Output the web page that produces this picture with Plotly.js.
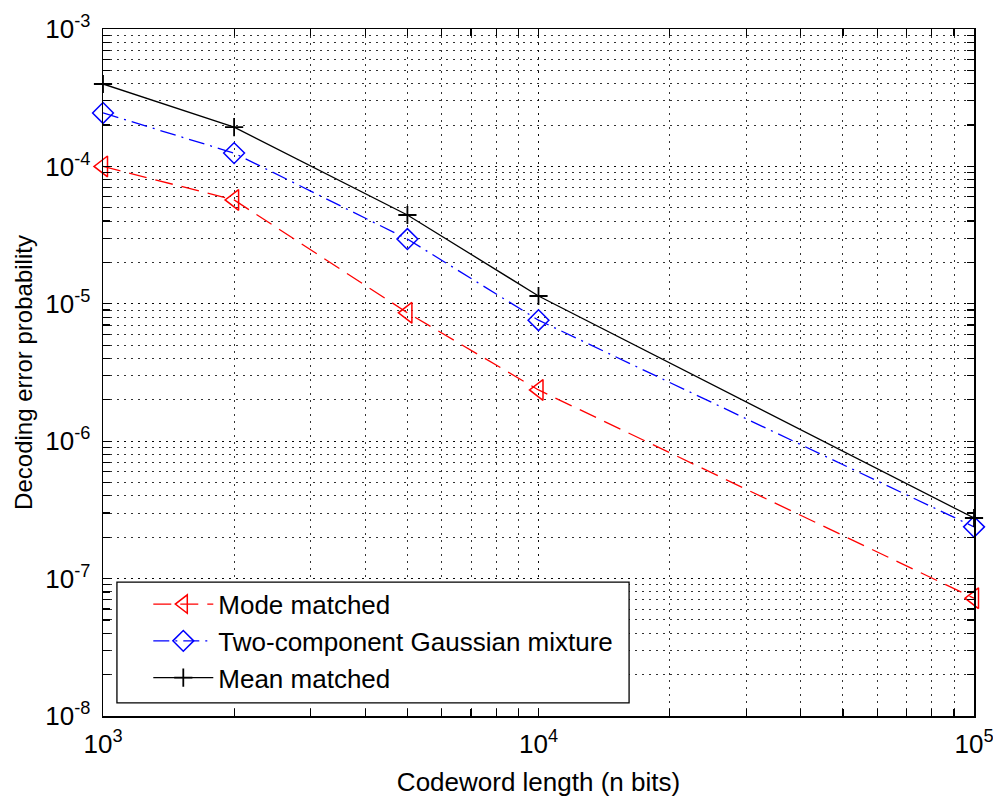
<!DOCTYPE html>
<html>
<head>
<meta charset="utf-8">
<script src="https://cdn.plot.ly/plotly-3.0.1.min.js"></script>
<style>html,body{margin:0;padding:0;background:#fff;}#chart{width:993px;height:799px;}</style>
</head>
<body>
<div id="chart"></div>
<script>
// ---- data ----
var codewordLength = [1000, 2000, 5000, 10000, 100000];
var modeMatched = [1.0e-4, 5.7e-5, 8.6e-6, 2.36e-6, 7.2e-8];
var gaussianMixture = [2.45e-4, 1.25e-4, 2.96e-5, 7.6e-6, 2.38e-7];
var meanMatched = [3.98e-4, 1.93e-4, 4.43e-5, 1.14e-5, 2.76e-7];
var seriesNames = ['Mode matched', 'Two-component Gaussian mixture', 'Mean matched'];
var xTickVals = [1e3, 1e4, 1e5];
var xTickText = ['10<sup>3</sup>', '10<sup>4</sup>', '10<sup>5</sup>'];
var yTickVals = [1e-8, 1e-7, 1e-6, 1e-5, 1e-4, 1e-3];
var yTickText = ['10<sup>-8</sup>', '10<sup>-7</sup>', '10<sup>-6</sup>', '10<sup>-5</sup>', '10<sup>-4</sup>', '10<sup>-3</sup>'];

var FONT = 'Arial, Liberation Sans, sans-serif';
var gridStyle = {color: 'rgba(0,0,0,0.8)', dash: '1.5px,5.5px'};

var traces = [
  {x: codewordLength, y: modeMatched, name: seriesNames[0], type: 'scatter', mode: 'lines+markers', cliponaxis: false,
   line: {color: '#ff0000', width: 1.3, dash: '18px,9px'},
   marker: {symbol: 'triangle-left-open', size: 18, color: '#ff0000', line: {width: 1.5, color: '#ff0000'}}},
  {x: codewordLength, y: gaussianMixture, name: seriesNames[1], type: 'scatter', mode: 'lines+markers', cliponaxis: false,
   line: {color: '#0000ff', width: 1.3, dash: '16px,6px,2px,6px'},
   marker: {symbol: 'diamond-open', size: 16, color: '#0000ff', line: {width: 1.5, color: '#0000ff'}}},
  {x: codewordLength, y: meanMatched, name: seriesNames[2], type: 'scatter', mode: 'lines+markers', cliponaxis: false,
   line: {color: '#000000', width: 1.3},
   marker: {symbol: 'cross-thin-open', size: 13, color: '#000000', line: {width: 1.8, color: '#000000'}}}
];

var axisCommon = {
  showline: true, linecolor: '#000', linewidth: 1.5, mirror: 'ticks',
  ticks: 'inside', ticklen: 7, tickwidth: 1.3, tickcolor: '#000',
  showgrid: true, gridcolor: gridStyle.color, griddash: gridStyle.dash, gridwidth: 1,
  zeroline: false, tickmode: 'array', ticklabeloverflow: 'allow',
  tickfont: {family: FONT, size: 26, color: '#000'}
};

var minorStyle = {dtick: 'D1', ticks: 'inside', ticklen: 7, tickcolor: '#000', tickwidth: 1.2,
                  showgrid: true, gridcolor: gridStyle.color, griddash: gridStyle.dash, gridwidth: 1};

// legend frame (paper coordinates of the legend box)
var legendBox = {x0: 0.016, x1: 0.604, y0: 0.019, y1: 0.195};

var layout = {
  width: 993, height: 799,
  margin: {l: 103, r: 19, t: 29, b: 83},
  paper_bgcolor: '#fff', plot_bgcolor: '#fff',
  showlegend: true,
  font: {family: FONT, color: '#000'},
  xaxis: Object.assign({}, axisCommon, {
    type: 'log', range: [2.99999, 5.00001], tickvals: xTickVals, ticktext: xTickText,
    ticklabelstandoff: 4,
    minor: minorStyle,
    title: {text: 'Codeword length (n bits)', font: {family: FONT, size: 26, color: '#000'}, standoff: 15}
  }),
  yaxis: Object.assign({}, axisCommon, {
    type: 'log', range: [-8.00001, -2.99999], tickvals: yTickVals, ticktext: yTickText,
    ticklabelstandoff: 6,
    minor: minorStyle,
    title: {text: 'Decoding error probability', font: {family: FONT, size: 24, color: '#000'}, standoff: 6}
  }),
  shapes: [{
    type: 'rect', xref: 'paper', yref: 'paper',
    x0: legendBox.x0, x1: legendBox.x1, y0: legendBox.y0, y1: legendBox.y1,
    fillcolor: '#fff', line: {color: '#000', width: 1.3}, layer: 'above'
  }],
  legend: {
    x: 0.052, y: 0.197, xanchor: 'left', yanchor: 'top',
    bgcolor: 'rgba(0,0,0,0)', borderwidth: 0,
    font: {family: FONT, size: 26, color: '#000'},
    itemwidth: 60
  }
};

Plotly.newPlot('chart', traces, layout, {displayModeBar: false, staticPlot: true});
</script>
</body>
</html>
